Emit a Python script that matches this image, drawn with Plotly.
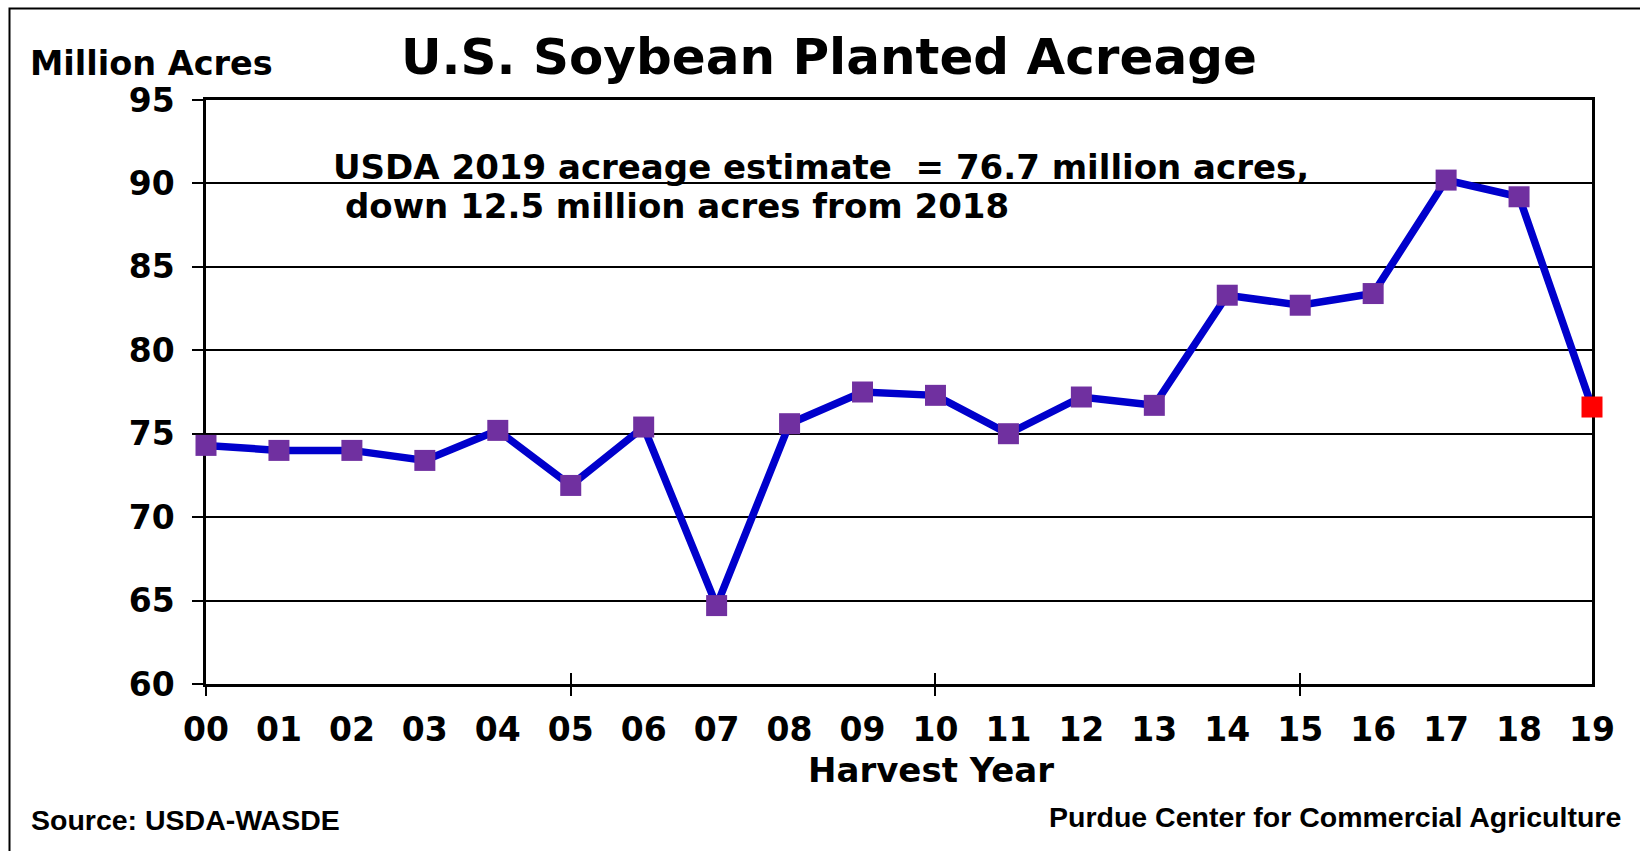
import plotly.graph_objects as go

years = ["00", "01", "02", "03", "04", "05", "06", "07", "08", "09",
         "10", "11", "12", "13", "14", "15", "16", "17", "18", "19"]
acres = [74.3, 74.0, 74.0, 73.4, 75.2, 71.9, 75.4, 64.7, 75.6, 77.5,
         77.3, 75.0, 77.2, 76.7, 83.3, 82.7, 83.4, 90.2, 89.2, 76.6]
marker_colors = ["#7030A0"] * 19 + ["#FF0000"]
y_ticks = [60, 65, 70, 75, 80, 85, 90, 95]
x_major = [0, 5, 10, 15]

W, H = 1640, 851
L, R, T, B = 206, 1592, 100, 684

def px(x):
    return (x - L) / (R - L)

def py(y):
    return (B - y) / (B - T)

xi = list(range(len(years)))

VERD = "DejaVu Sans"
ARIAL = "Liberation Sans"

fig = go.Figure()
# invisible carriers so the tick-only overlay axes get drawn
for ax in ("x2", "x3"):
    fig.add_trace(go.Scatter(
        x=[xi[0]], y=[y_ticks[0]], xaxis=ax, yaxis="y", mode="markers",
        marker=dict(opacity=0), hoverinfo="skip", showlegend=False,
    ))
fig.add_trace(go.Scatter(
    x=xi, y=acres, mode="lines+markers",
    line=dict(color="#0000CC", width=7.5),
    marker=dict(symbol="square", size=21, color=marker_colors, line=dict(width=0)),
    cliponaxis=False, showlegend=False, hoverinfo="x+y",
))

fig.update_layout(
    width=W, height=H,
    margin=dict(l=L, r=W - R, t=T, b=H - B),
    paper_bgcolor="white", plot_bgcolor="white",
    font=dict(family=VERD, color="black"),
    xaxis=dict(
        range=[0, 19], tickmode="array", tickvals=xi,
        ticktext=["<b>%s</b>" % y for y in years],
        ticks="", showgrid=False, zeroline=False,
        showline=True, linecolor="black", linewidth=2.5, mirror=True,
        tickfont=dict(family=VERD, size=33, color="black"),
        ticklabelstandoff=15, layer="below traces",
    ),
    xaxis2=dict(
        range=[0, 19], overlaying="x", tickmode="array", tickvals=x_major,
        ticks="outside", ticklen=11, tickwidth=2, tickcolor="black",
        showticklabels=False, showgrid=False, zeroline=False, showline=False,
        layer="below traces",
    ),
    xaxis3=dict(
        range=[0, 19], overlaying="x", tickmode="array", tickvals=x_major,
        ticks="inside", ticklen=11, tickwidth=2, tickcolor="black",
        showticklabels=False, showgrid=False, zeroline=False, showline=False,
        layer="below traces",
    ),
    yaxis=dict(
        range=[60, 95], tickmode="array", tickvals=y_ticks,
        ticktext=["<b>%d</b>" % v for v in y_ticks],
        ticks="outside", ticklen=11, tickwidth=2, tickcolor="black",
        showgrid=True, gridcolor="black", gridwidth=2, zeroline=False,
        showline=True, linecolor="black", linewidth=2.5, mirror=True,
        tickfont=dict(family=VERD, size=33, color="black"),
        ticklabelstandoff=11, layer="below traces",
    ),
)

def ann(text, x, y, size, xanchor="left", family=VERD):
    fig.add_annotation(
        text=text, x=px(x), y=py(y), xref="paper", yref="paper",
        xanchor=xanchor, yanchor="middle", showarrow=False, borderpad=0,
        font=dict(family=family, size=size, color="black"),
    )

ann("<b>U.S. Soybean Planted Acreage</b>", 829, 57, 50, xanchor="center")
ann("<b>Million Acres</b>", 29, 64, 33.5)
ann("<b>USDA 2019 acreage estimate  = 76.7 million acres,</b>", 332, 167, 34)
ann("<b>down 12.5 million acres from 2018</b>", 344, 206, 34)
ann("<b>Harvest Year</b>", 931, 770, 34, xanchor="center")
ann("<b>Source: USDA-WASDE</b>", 30, 820, 28.5, family=ARIAL)
ann("<b>Purdue Center for Commercial Agriculture</b>", 1622, 817, 28.5,
    xanchor="right", family=ARIAL)

fig.add_shape(type="rect", xref="paper", yref="paper",
              x0=px(9.5), x1=px(1700), y0=py(8.5), y1=py(900),
              line=dict(color="black", width=2), layer="below")

fig.write_html("out.html")
